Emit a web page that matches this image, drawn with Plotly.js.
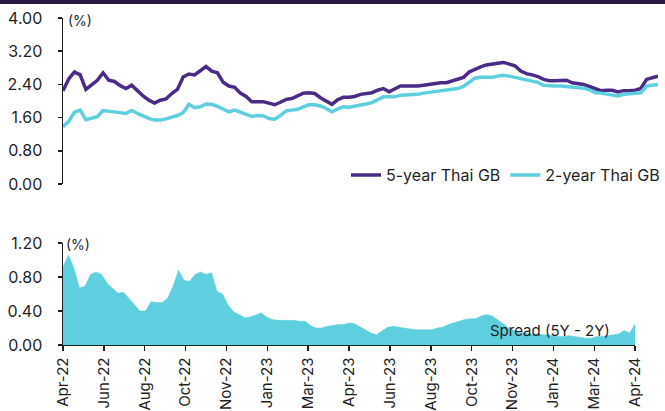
<!DOCTYPE html>
<html>
<head>
<meta charset="utf-8">
<script src="https://cdn.plot.ly/plotly-3.0.1.min.js"></script>
<style>html,body{margin:0;padding:0;background:#fff}#chart{width:665px;height:411px}</style>
</head>
<body>
<div id="chart"></div>
<script>
const dates = [
"2022-04-29","2022-05-06","2022-05-13","2022-05-20","2022-05-27","2022-06-03","2022-06-10","2022-06-17","2022-06-24",
"2022-07-01","2022-07-08","2022-07-15","2022-07-22","2022-07-29","2022-08-05","2022-08-12","2022-08-19","2022-08-26",
"2022-09-02","2022-09-09","2022-09-16","2022-09-23","2022-09-30","2022-10-07","2022-10-14","2022-10-21","2022-10-28",
"2022-11-04","2022-11-11","2022-11-18","2022-11-25","2022-12-02","2022-12-09","2022-12-16","2022-12-23","2022-12-30",
"2023-01-06","2023-01-13","2023-01-20","2023-01-27","2023-02-03","2023-02-10","2023-02-17","2023-02-24",
"2023-03-03","2023-03-10","2023-03-17","2023-03-24","2023-03-31","2023-04-07","2023-04-14","2023-04-21","2023-04-28",
"2023-05-05","2023-05-12","2023-05-19","2023-05-26","2023-06-02","2023-06-09","2023-06-16","2023-06-23","2023-06-30",
"2023-07-07","2023-07-14","2023-07-21","2023-07-28","2023-08-04","2023-08-11","2023-08-18","2023-08-25",
"2023-09-01","2023-09-08","2023-09-15","2023-09-22","2023-09-29","2023-10-06","2023-10-13","2023-10-20","2023-10-27",
"2023-11-03","2023-11-10","2023-11-17","2023-11-24","2023-12-01","2023-12-08","2023-12-15","2023-12-22","2023-12-29",
"2024-01-05","2024-01-12","2024-01-19","2024-01-26","2024-02-02","2024-02-09","2024-02-16","2024-02-23",
"2024-03-01","2024-03-08","2024-03-15","2024-03-22","2024-03-29","2024-04-05","2024-04-12","2024-04-19","2024-04-26"
];

const yield5Y = [
2.25,2.53,2.70,2.63,2.28,2.39,2.50,2.68,2.50,
2.47,2.37,2.30,2.38,2.25,2.12,2.02,1.95,2.02,
2.05,2.18,2.28,2.58,2.65,2.63,2.73,2.83,2.72,
2.68,2.45,2.36,2.33,2.19,2.11,1.98,1.98,1.98,
1.95,1.91,1.97,2.04,2.06,2.13,2.19,2.20,
2.18,2.08,2.01,1.92,2.03,2.09,2.09,2.11,2.16,
2.19,2.20,2.26,2.30,2.22,2.29,2.36,2.36,2.35,
2.36,2.38,2.40,2.43,2.44,2.44,2.48,2.52,
2.57,2.70,2.77,2.82,2.87,2.88,2.91,2.93,2.90,
2.85,2.72,2.66,2.63,2.59,2.52,2.49,2.49,2.49,
2.50,2.44,2.43,2.40,2.35,2.29,2.25,2.26,
2.26,2.22,2.25,2.25,2.26,2.30,2.52,2.56,2.60
];

const yield2Y = [
1.38,1.51,1.73,1.78,1.55,1.59,1.62,1.77,1.76,
1.75,1.72,1.70,1.77,1.70,1.63,1.58,1.54,1.54,
1.57,1.61,1.65,1.72,1.92,1.84,1.86,1.93,1.92,
1.87,1.80,1.74,1.78,1.73,1.68,1.63,1.65,1.64,
1.58,1.56,1.65,1.76,1.78,1.80,1.86,1.91,
1.91,1.88,1.82,1.74,1.81,1.86,1.85,1.87,1.91,
1.93,1.96,2.04,2.10,2.10,2.10,2.14,2.14,2.14,
2.16,2.19,2.21,2.23,2.25,2.27,2.28,2.30,
2.35,2.45,2.55,2.57,2.57,2.57,2.60,2.62,2.60,
2.57,2.55,2.52,2.49,2.45,2.38,2.36,2.36,2.36,
2.35,2.33,2.34,2.31,2.27,2.20,2.19,2.17,
2.15,2.12,2.16,2.17,2.17,2.20,2.36,2.39,2.40
];

const spread = [
0.92,1.06,0.90,0.67,0.69,0.83,0.86,0.83,0.73,
0.67,0.61,0.62,0.55,0.48,0.40,0.40,0.51,0.50,
0.50,0.55,0.69,0.88,0.76,0.75,0.83,0.86,0.83,
0.85,0.63,0.60,0.47,0.39,0.36,0.32,0.33,0.35,
0.38,0.33,0.30,0.29,0.29,0.29,0.29,0.28,
0.28,0.23,0.20,0.20,0.22,0.23,0.24,0.24,0.26,
0.25,0.21,0.17,0.14,0.12,0.17,0.21,0.22,0.21,
0.20,0.19,0.18,0.18,0.18,0.18,0.20,0.21,
0.24,0.26,0.28,0.30,0.31,0.31,0.34,0.36,0.34,
0.30,0.25,0.20,0.17,0.15,0.14,0.13,0.13,0.12,
0.12,0.11,0.10,0.10,0.11,0.10,0.09,0.08,
0.08,0.10,0.10,0.11,0.12,0.13,0.17,0.14,0.25
];

const tickDates = ["2022-04-29","2022-06-20","2022-08-11","2022-10-02","2022-11-23","2023-01-14","2023-03-07",
"2023-04-28","2023-06-19","2023-08-10","2023-10-01","2023-11-22","2024-01-13","2024-03-05","2024-04-26"];
const tickLabels = ["Apr-22","Jun-22","Aug-22","Oct-22","Nov-22","Jan-23","Mar-23",
"Apr-23","Jun-23","Aug-23","Oct-23","Nov-23","Jan-24","Mar-24","Apr-24"];

const PURPLE = "#4a2b87", CYAN = "#5ecfdf", INK = "#1f1f1f";
const FONT = "Inter, 'Noto Sans', sans-serif";

const traces = [
  {x: dates, y: yield5Y, type: "scatter", mode: "lines", name: "5-year Thai GB",
   line: {color: PURPLE, width: 3.5}, xaxis: "x", yaxis: "y"},
  {x: dates, y: yield2Y, type: "scatter", mode: "lines", name: "2-year Thai GB",
   line: {color: CYAN, width: 3.5}, xaxis: "x", yaxis: "y"},
  {x: dates, y: spread, type: "scatter", mode: "lines", name: "Spread (5Y - 2Y)",
   fill: "tozeroy", fillcolor: CYAN, line: {color: CYAN, width: 0.5}, showlegend: false,
   xaxis: "x2", yaxis: "y2"}
];

const range = ["2022-04-29", "2024-04-26"];
const layout = {
  width: 665, height: 411,
  margin: {l: 63, r: 2, t: 0, b: 0},
  paper_bgcolor: "#fff", plot_bgcolor: "#fff",
  font: {family: FONT, size: 15, color: INK},
  showlegend: true,
  legend: {orientation: "h", x: 1.012, xanchor: "right", y: 0.574, yanchor: "middle",
    font: {family: FONT, size: 16, color: INK}, bgcolor: "rgba(0,0,0,0)", itemwidth: 30, tracegroupgap: 0},
  xaxis: {type: "date", range: range, domain: [0, 1], anchor: "y", showline: false, showgrid: false,
    zeroline: false, showticklabels: false, ticks: "", automargin: false},
  yaxis: {domain: [0.5523, 0.9562], range: [0, 4], anchor: "x", tickvals: [0, 0.8, 1.6, 2.4, 3.2, 4.0],
    tickformat: ".2f", showline: true, linecolor: INK, linewidth: 1.5, ticks: "outside", ticklen: 4,
    tickcolor: INK, tickwidth: 1.5, showgrid: false, zeroline: false, ticklabelstandoff: 12,
    tickfont: {family: FONT, size: 16, color: INK}, automargin: false},
  xaxis2: {type: "date", range: range, domain: [0, 0.9617], anchor: "y2", showline: true, linecolor: INK,
    linewidth: 1.5, ticks: "outside", ticklen: 5, tickcolor: INK, tickwidth: 1.5, showgrid: false,
    zeroline: false, tickvals: tickDates, ticktext: tickLabels, tickangle: -90,
    tickfont: {family: FONT, size: 15, color: INK}, automargin: false},
  yaxis2: {domain: [0.1606, 0.4088], range: [0, 1.2], anchor: "x2", tickvals: [0, 0.4, 0.8, 1.2],
    tickformat: ".2f", showline: true, linecolor: INK, linewidth: 1.5, ticks: "outside", ticklen: 4,
    tickcolor: INK, tickwidth: 1.5, showgrid: false, zeroline: false, ticklabelstandoff: 12,
    tickfont: {family: FONT, size: 16, color: INK}, automargin: false},
  shapes: [
    {type: "rect", xref: "paper", yref: "paper", x0: -0.2, x1: 1.1, y0: 0.99, y1: 1.02,
     fillcolor: "#2a1746", line: {width: 0}}
  ],
  annotations: [
    {text: "(%)", xref: "paper", yref: "paper", x: 0.005, y: 0.949, xanchor: "left", yanchor: "middle",
     showarrow: false, font: {family: FONT, size: 14, color: INK}},
    {text: "(%)", xref: "paper", yref: "paper", x: 0.002, y: 0.405, xanchor: "left", yanchor: "middle",
     showarrow: false, font: {family: FONT, size: 14, color: INK}},
    {text: "Spread (5Y - 2Y)", xref: "paper", yref: "paper", x: 0.715, y: 0.197, xanchor: "left", yanchor: "middle",
     showarrow: false, font: {family: FONT, size: 15, color: INK}}
  ]
};

Plotly.newPlot("chart", traces, layout, {displayModeBar: false, staticPlot: true});
</script>
</body>
</html>
